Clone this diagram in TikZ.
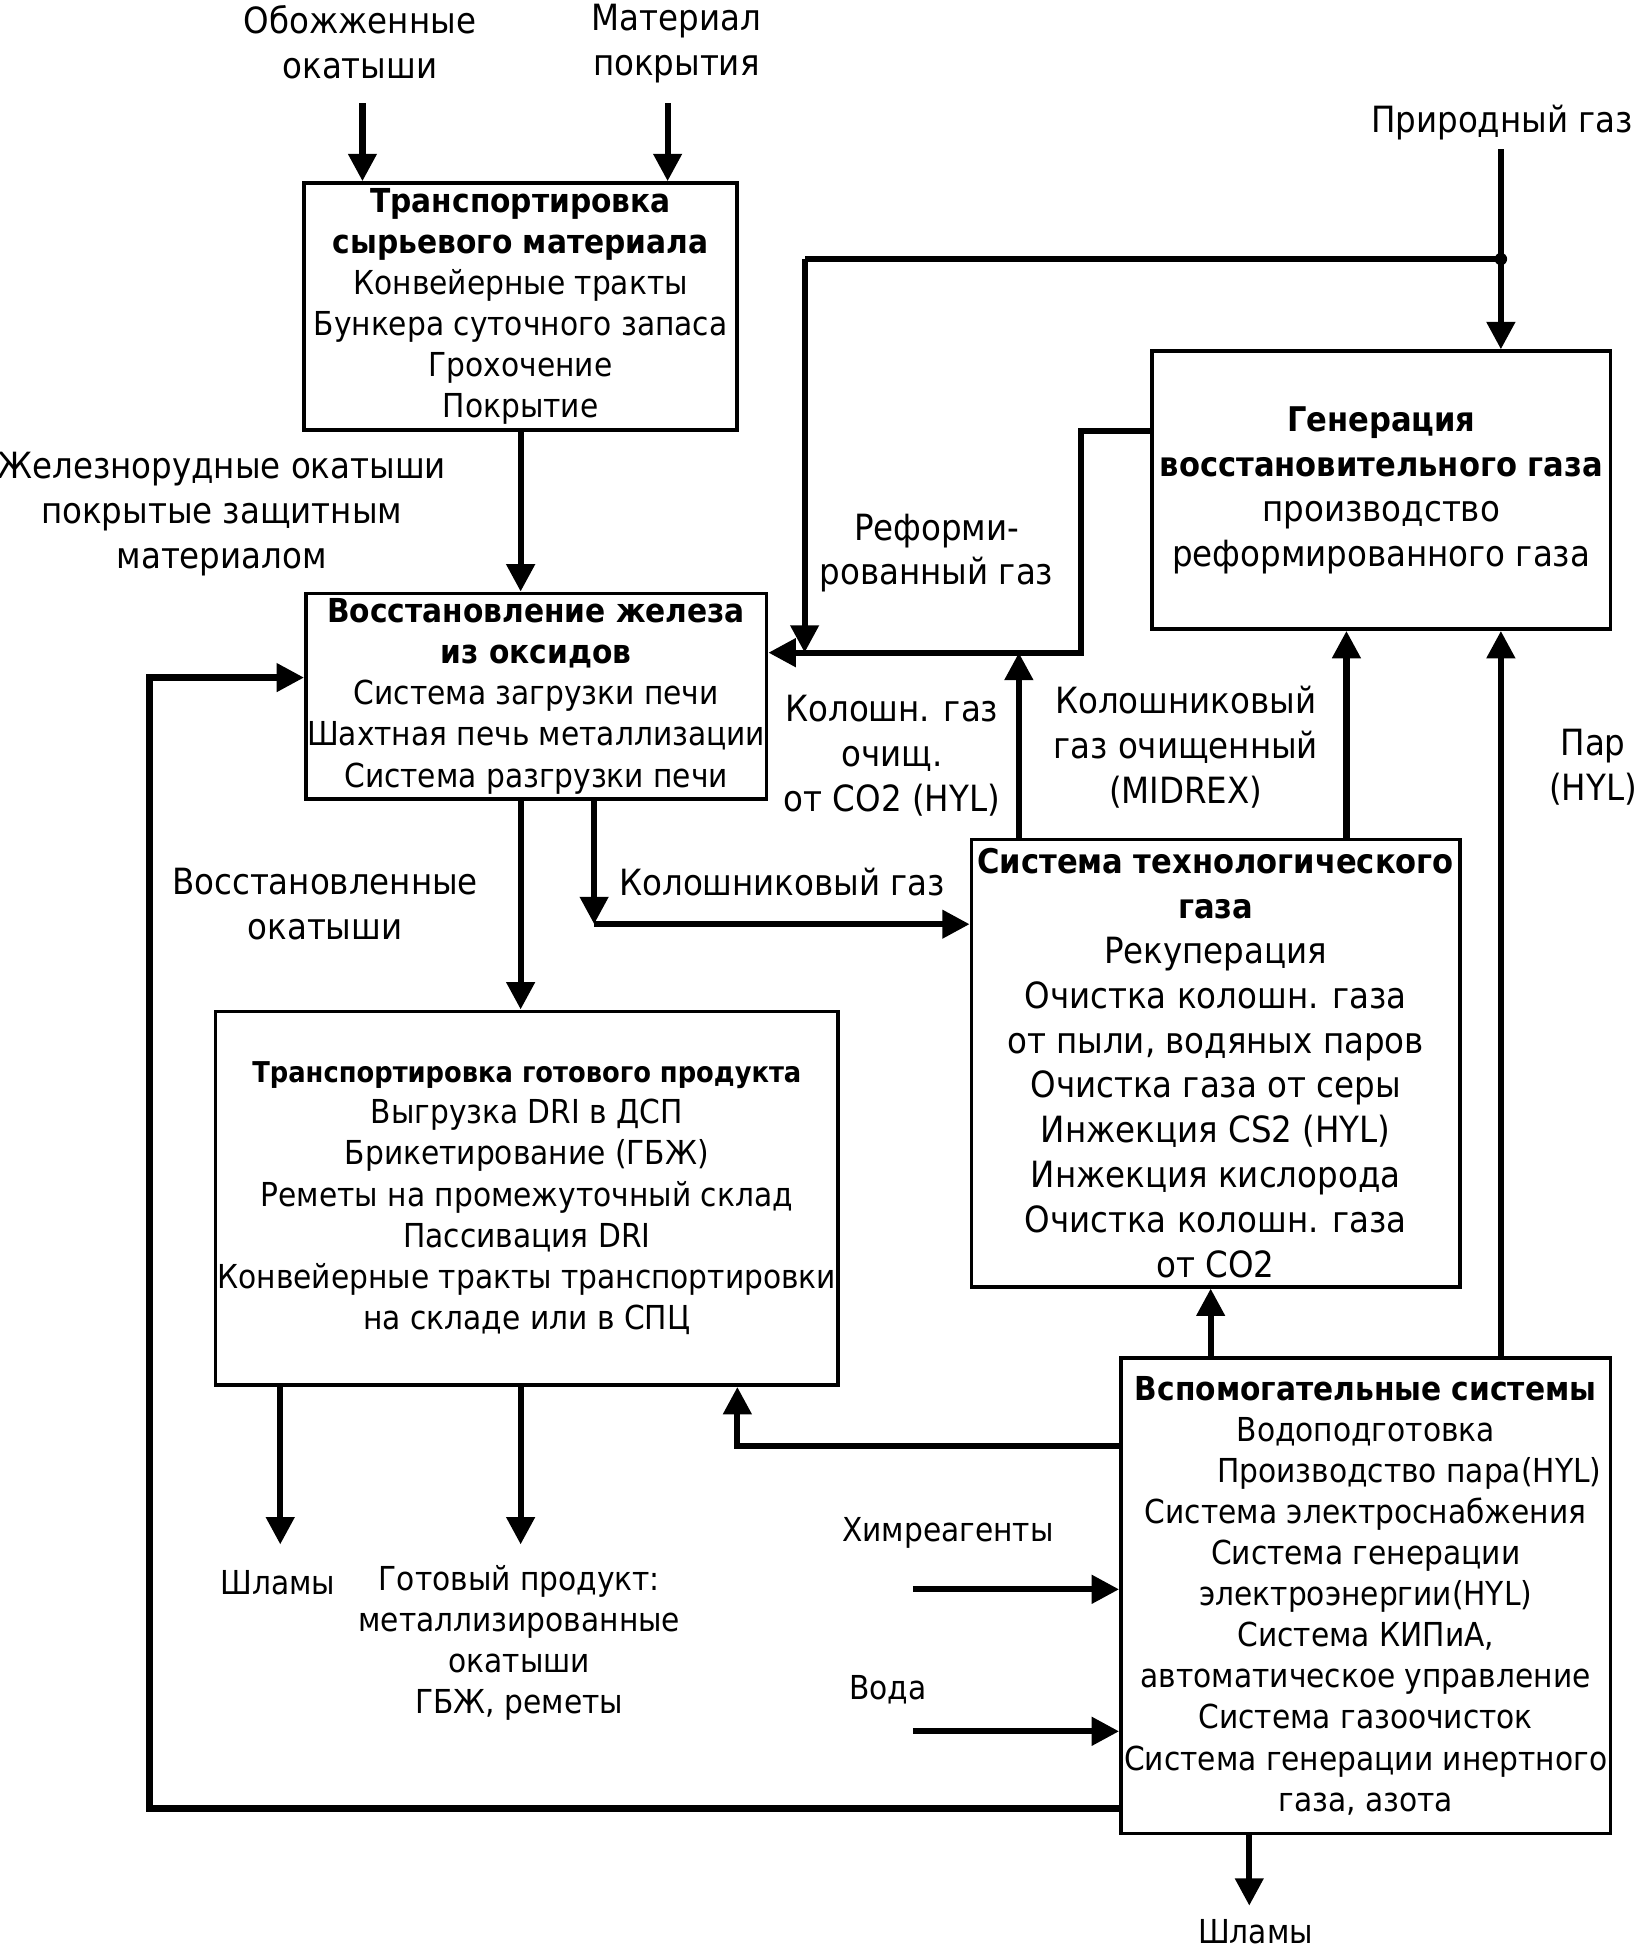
\documentclass[tikz,border=0pt]{standalone}
\usepackage{fontspec}
\setmainfont{DejaVu Sans Condensed}
\usetikzlibrary{arrows.meta}
\newcommand\bigbold[1]{{\fontsize{27.3}{36}\selectfont\textbf{#1}}}
\begin{document}
\begin{tikzpicture}[x=1pt,y=-1pt,
  nf/.style={font=\fontsize{26.5}{33}\selectfont},
  lf/.style={font=\fontsize{29}{36}\selectfont},
  box/.style={draw, line width=3pt, inner sep=1pt, align=center},
  lbl/.style={align=center, inner sep=0pt},
  flow/.style={line width=5pt, -{Triangle[length=22pt,width=22pt]}},
  wire/.style={line width=5pt}]
\useasboundingbox (0,0) rectangle (1318,1568);

% boxes
\node[box,nf,minimum width=348pt,minimum height=198pt] (raw) at (418,246)
  {\textbf{Транспортировка}\\\textbf{сырьевого материала}\\Конвейерные тракты\\Бункера суточного запаса\\Грохочение\\Покрытие};
\node[box,nf,minimum width=367pt,minimum height=165pt] (shaft) at (430.5,559)
  {\textbf{Восстановление железа}\\\textbf{из оксидов}\\Система загрузки печи\\Шахтная печь металлизации\\Система разгрузки печи};
\node[box,lf,minimum width=392pt,minimum height=359pt] (gas) at (976,853.5)
  {\bigbold{Система технологического}\\\bigbold{газа}\\Рекуперация\\Очистка колошн. газа\\от пыли, водяных паров\\Очистка газа от серы\\Инжекция CS2 (HYL)\\Инжекция кислорода\\Очистка колошн. газа\\от CO2};
\node[box,lf,minimum width=368pt,minimum height=223pt] (gen) at (1109,393.5)
  {\bigbold{Генерация}\\\bigbold{восстановительного газа}\\производство\\реформированного газа};
\node[box,nf,minimum width=500pt,minimum height=300pt] (prod) at (423,962)
  {{\fontsize{23}{33}\selectfont\textbf{Транспортировка готового продукта}}\\Выгрузка DRI в ДСП\\Брикетирование (ГБЖ)\\Реметы на промежуточный склад\\Пассивация DRI\\Конвейерные тракты транспортировки\\на складе или в СПЦ};
\node[box,nf,minimum width=393pt,minimum height=382pt] (aux) at (1096.5,1281)
  {\textbf{Вспомогательные системы}\\Водоподготовка\\\hspace*{70pt}Производство пара(HYL)\\Система электроснабжения\\Система генерации\\электроэнергии(HYL)\\Система КИПиА,\\автоматическое управление\\Система газоочисток\\Система генерации инертного\\газа, азота};

% labels
\node[lbl,lf] (l1) at (289,34) {Обожженные\\окатыши};
\node[lbl,lf] (l2) at (543,35) {Материал\\покрытия};
\node[lbl,lf] (lng) at (1206,98) {Природный газ};
\node[lbl,lf] (lore) at (178,413) {Железнорудные окатыши\\покрытые защитным\\материалом};
\node[lbl,lf] (lref) at (752,444) {Реформи-\\рованный газ};
\node[lbl,lf] (lco2) at (716,607) {Колошн. газ\\очищ.\\от CO2 (HYL)};
\node[lbl,lf] (lmid) at (952,600) {Колошниковый\\газ очищенный\\(MIDREX)};
\node[lbl,lf] (lpar) at (1279,616) {Пар\\(HYL)};
\node[lbl,lf] (lred) at (261,726) {Восстановленные\\окатыши};
\node[lbl,lf] (ltop) at (628,708) {Колошниковый газ};
\node[lbl,nf] (lsl1) at (223,1271) {Шламы};
\node[lbl,nf] (lprod) at (417,1319) {Готовый продукт:\\металлизированные\\окатыши\\ГБЖ, реметы};
\node[lbl,nf] (lchem) at (761,1231) {Химреагенты};
\node[lbl,nf] (lwat) at (713,1357) {Вода};
\node[lbl,nf] (lsl2) at (1008,1551) {Шламы};

% coordinates
\coordinate (a1) at (291,83);
\coordinate (a2) at (536,83);
\coordinate (ng) at (1205,120);
\coordinate (jn) at (1205,208);
\coordinate (jl) at (646,208);
\coordinate (hl) at (646,524);
\coordinate (gw) at (868,346);
\coordinate (gb) at (868,524);
\coordinate (tg) at (477,742);
\coordinate (co) at (818,524);
\coordinate (mx) at (1081,0);
\coordinate (px) at (1205,0);
\coordinate (ax) at (972,0);
\coordinate (pr) at (592,1161);
\coordinate (lp) at (120,1452);
\coordinate (lq) at (120,544);
\coordinate (ch) at (733,1276);
\coordinate (wa) at (733,1390);
\coordinate (sl2) at (1003,1530);
\coordinate (sl1) at (225,1240);
\coordinate (gp) at (418,1240);
\coordinate (rx) at (418,0);

% connectors
\draw[flow] (a1) -- (a1 |- raw.north);
\draw[flow] (a2) -- (a2 |- raw.north);
\draw[flow] (rx |- raw.south) -- (rx |- shaft.north);
\draw[flow] (rx |- shaft.south) -- (rx |- prod.north);
\draw[flow] (ng) -- (ng |- gen.north);
\draw[wire] (jn) -- (jl);
\draw[flow] (jl) -- (hl);
\fill (jn) circle (5pt);
\draw[flow] (gw -| gen.west) -- (gw) -- (gb) -- (gb -| shaft.east);
\draw[flow] (tg |- shaft.south) -- (tg);
\draw[flow] (tg) -- (tg -| gas.west);
\draw[flow] (co |- gas.north) -- (co);
\draw[flow] (mx |- gas.north) -- (mx |- gen.south);
\draw[flow] (px |- aux.north) -- (px |- gen.south);
\draw[flow] (ax |- aux.north) -- (ax |- gas.south);
\draw[flow] (pr -| aux.west) -- (pr) -- (pr |- prod.south);
\draw[flow] (lp -| aux.west) -- (lp) -- (lq) -- (lq -| shaft.west);
\draw[flow] (ch) -- (ch -| aux.west);
\draw[flow] (wa) -- (wa -| aux.west);
\draw[flow] (sl2 |- aux.south) -- (sl2);
\draw[flow] (sl1 |- prod.south) -- (sl1);
\draw[flow] (gp |- prod.south) -- (gp);
\end{tikzpicture}
\end{document}
